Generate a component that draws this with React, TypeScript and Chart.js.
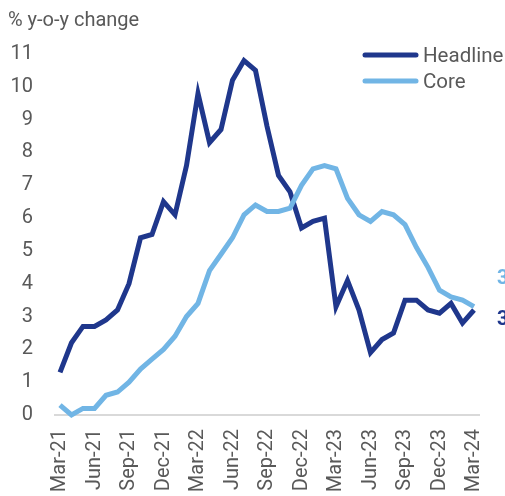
import React, { useEffect, useRef } from "react";
import { Chart, registerables } from "chart.js";

Chart.register(...registerables);

const months = [
  "Mar-21","Apr-21","May-21","Jun-21","Jul-21","Aug-21","Sep-21","Oct-21","Nov-21","Dec-21",
  "Jan-22","Feb-22","Mar-22","Apr-22","May-22","Jun-22","Jul-22","Aug-22","Sep-22","Oct-22","Nov-22","Dec-22",
  "Jan-23","Feb-23","Mar-23","Apr-23","May-23","Jun-23","Jul-23","Aug-23","Sep-23","Oct-23","Nov-23","Dec-23",
  "Jan-24","Feb-24","Mar-24",
];

const headline = [
  1.3, 2.2, 2.7, 2.7, 2.9, 3.2, 4.0, 5.4, 5.5, 6.5,
  6.1, 7.6, 9.8, 8.3, 8.7, 10.2, 10.8, 10.5, 8.8, 7.3, 6.8, 5.7,
  5.9, 6.0, 3.3, 4.1, 3.2, 1.9, 2.3, 2.5, 3.5, 3.5, 3.2, 3.1,
  3.4, 2.8, 3.2,
];

const core = [
  0.3, 0.0, 0.2, 0.2, 0.6, 0.7, 1.0, 1.4, 1.7, 2.0,
  2.4, 3.0, 3.4, 4.4, 4.9, 5.4, 6.1, 6.4, 6.2, 6.2, 6.3, 7.0,
  7.5, 7.6, 7.5, 6.6, 6.1, 5.9, 6.2, 6.1, 5.8, 5.1, 4.5, 3.8,
  3.6, 3.5, 3.3,
];

const seriesNames = ["Headline", "Core"];
const endLabels = ["3.2", "3.3"];
const yTitle = "% y-o-y change";

const NAVY = "#1F378C";
const LIGHT = "#71B5E5";
const TEXT = "#595959";
const FONT = "Roboto";

const extras = {
  id: "extras",
  afterDraw(chart: any) {
    const { ctx, chartArea, scales } = chart;
    const y = scales.y;
    ctx.save();
    ctx.fillStyle = TEXT;
    ctx.font = `20px ${FONT}`;
    ctx.textAlign = "left";
    ctx.textBaseline = "alphabetic";
    ctx.fillText(yTitle, 8, 26);
    const colors = [NAVY, LIGHT];
    const legY = [55, 81];
    seriesNames.forEach((name, i) => {
      ctx.strokeStyle = colors[i];
      ctx.lineWidth = 5;
      ctx.lineCap = "round";
      ctx.beginPath();
      ctx.moveTo(365, legY[i]);
      ctx.lineTo(416, legY[i]);
      ctx.stroke();
      ctx.fillStyle = TEXT;
      ctx.font = `20.5px ${FONT}`;
      ctx.fillText(name, 423, legY[i] + 7);
    });
    ctx.font = `bold 20px ${FONT}`;
    ctx.textBaseline = "middle";
    const last = months.length - 1;
    ctx.fillStyle = LIGHT;
    ctx.fillText(endLabels[1], chartArea.right + 23, y.getPixelForValue(core[last]) - 28);
    ctx.fillStyle = NAVY;
    ctx.fillText(endLabels[0], chartArea.right + 23, y.getPixelForValue(headline[last]) + 10);
    ctx.restore();
  },
  beforeDatasetsDraw(chart: any) {
    const { ctx, chartArea, scales } = chart;
    const y0 = scales.y.getPixelForValue(0);
    ctx.save();
    ctx.strokeStyle = "#D9D9D9";
    ctx.lineWidth = 2;
    ctx.beginPath();
    ctx.moveTo(chartArea.left - 6, y0);
    ctx.lineTo(chartArea.right + 6, y0);
    ctx.stroke();
    ctx.restore();
  },
};

export default function App() {
  const ref = useRef<HTMLCanvasElement | null>(null);
  useEffect(() => {
    if (!ref.current) return;
    const chart = new Chart(ref.current, {
      type: "line",
      data: {
        labels: months,
        datasets: [
          {
            label: seriesNames[1],
            data: core,
            borderColor: LIGHT,
            borderWidth: 5,
            pointRadius: 0,
            tension: 0,
            clip: 8,
          },
          {
            label: seriesNames[0],
            data: headline,
            borderColor: NAVY,
            borderWidth: 5,
            pointRadius: 0,
            tension: 0,
            clip: 8,
          },
        ],
      },
      options: {
        animation: false,
        responsive: true,
        maintainAspectRatio: false,
        layout: { padding: { top: 54, right: 31, left: 0, bottom: 0 } },
        plugins: {
          legend: { display: false },
          title: { display: false },
          tooltip: { enabled: false },
        },
        scales: {
          x: {
            type: "category",
            offset: false,
            grid: { display: false, drawTicks: false },
            border: { display: false },
            ticks: {
              autoSkip: false,
              maxRotation: 90,
              minRotation: 90,
              padding: 14,
              color: TEXT,
              font: { family: FONT, size: 20 },
              callback: (_v: any, i: number) => (i % 3 === 0 ? months[i] : ""),
            },
            afterFit: (s: any) => {
              s.height = 81;
              s.paddingLeft = 0;
              s.paddingRight = 0;
            },
          },
          y: {
            min: 0,
            max: 11,
            grid: { display: false, drawTicks: false },
            border: { display: false },
            ticks: {
              stepSize: 1,
              padding: 27,
              color: TEXT,
              font: { family: FONT, size: 20 },
            },
            afterFit: (s: any) => {
              s.width = 60;
              s.paddingTop = 0;
              s.paddingBottom = 0;
            },
          },
        },
      },
      plugins: [extras],
    });
    return () => chart.destroy();
  }, []);
  return (
    <div style={{ position: "fixed", left: 0, top: 0, width: 505, height: 496, background: "#fff" }}>
      <canvas ref={ref} />
    </div>
  );
}
